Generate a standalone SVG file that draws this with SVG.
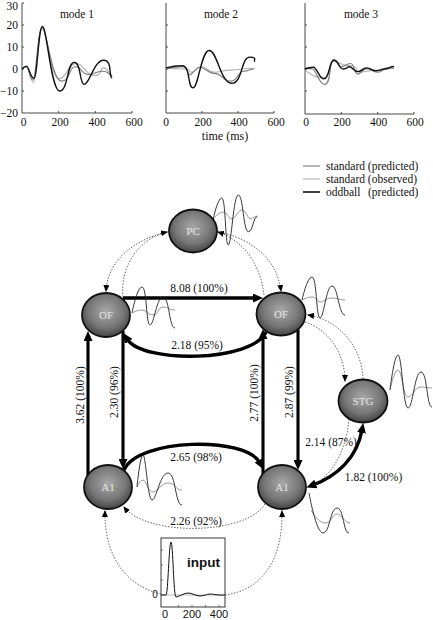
<svg xmlns="http://www.w3.org/2000/svg" width="433" height="620" viewBox="0 0 433 620">
<style>
.t{font-family:"Liberation Serif","Times New Roman",serif;font-size:11.5px;fill:#111}
.ax{fill:none;stroke:#333;stroke-width:0.9}
.blk{fill:none;stroke:#111;stroke-width:1.4;stroke-linejoin:round}
.g1{fill:none;stroke:#7a7a7a;stroke-width:1.1}
.g2{fill:none;stroke:#b0b0b0;stroke-width:1.1}
.wb{fill:none;stroke:#222;stroke-width:0.9}
.wg{fill:none;stroke:#8a8a8a;stroke-width:0.9}
.thick{fill:none;stroke:#000;stroke-width:3.4}
.vert{fill:none;stroke:#000;stroke-width:3.1}
.dot{fill:none;stroke:#444;stroke-width:0.8;stroke-dasharray:1.5,1.5}
.node{fill:url(#ng);stroke:#111;stroke-width:1.8}
.nl{font-family:"Liberation Serif","Times New Roman",serif;font-size:11px;fill:#e6e6e6;text-anchor:middle}
.lbl{font-family:"Liberation Serif","Times New Roman",serif;font-size:11.5px;fill:#111;text-anchor:middle}
.sans{font-family:"Liberation Sans",Arial,sans-serif;fill:#111}
</style>
<defs>
<radialGradient id="ng" cx="50%" cy="42%" r="62%">
<stop offset="0" stop-color="#a8a8a8"/>
<stop offset="0.6" stop-color="#767676"/>
<stop offset="1" stop-color="#3a3a3a"/>
</radialGradient>
<marker id="ah" markerUnits="userSpaceOnUse" markerWidth="10" markerHeight="9" refX="3" refY="4.5" orient="auto">
<path d="M0,0 L10,4.5 L0,9 z" fill="#000"/>
</marker>
<marker id="ahs" markerUnits="userSpaceOnUse" markerWidth="10" markerHeight="9" refX="3" refY="4.5" orient="auto-start-reverse">
<path d="M0,0 L10,4.5 L0,9 z" fill="#000"/>
</marker>
<marker id="ad" markerUnits="userSpaceOnUse" markerWidth="7" markerHeight="6" refX="6" refY="3" orient="auto">
<path d="M0,0 L7,3 L0,6 z" fill="#000"/>
</marker>
</defs>

<g id="plots">
<!-- plot 1 -->
<path class="ax" d="M22,3 V113 H132 M22,3 h2 M22,25 h2 M22,47 h2 M22,69 h2 M22,91 h2 M58.7,113 v-2 M95.3,113 v-2 M132,113 v-2"/>
<text class="t" text-anchor="end" x="18" y="9.5">30</text>
<text class="t" text-anchor="end" x="18" y="29">20</text>
<text class="t" text-anchor="end" x="18" y="51">10</text>
<text class="t" text-anchor="end" x="18" y="73">0</text>
<text class="t" text-anchor="end" x="18" y="95">−10</text>
<text class="t" text-anchor="end" x="18" y="117">−20</text>
<text class="t" text-anchor="middle" x="23.5" y="125.5">0</text>
<text class="t" text-anchor="middle" x="60" y="125.5">200</text>
<text class="t" text-anchor="middle" x="97" y="125.5">400</text>
<text class="t" text-anchor="middle" x="134" y="125.5">600</text>
<text class="t" text-anchor="middle" x="77" y="18">mode 1</text>
<path class="g2" d="M22,69 S24.3,65.7 26.6,65.7 S30,82.2 33.4,82.2 S37.8,27.2 42.2,27.2 S50.5,78.9 58.7,78.9 S67.4,63.5 76.1,63.5 S85.2,75.6 94.4,75.6 S99,67.9 103.6,67.9 S108,74.5 112.2,74.5"/>
<path class="g1" d="M22,69 S24.3,66.8 26.6,66.8 S29.8,80 33,80 S37.6,28.3 42.2,28.3 S51.8,81.1 61.4,81.1 S68.3,66.8 75.2,66.8 S81.6,74.5 88,74.5 S95.4,71.2 102.7,71.2 S107.5,75.6 112.2,75.6"/>
<path class="blk" d="M22,69 S24.3,66.4 26.6,66.4 S30.2,78.2 33.9,78.2 S38.2,26.5 42.5,26.5 S51,91 59.6,91 S66.9,62.4 74.2,62.4 S79.2,84.4 84.3,84.4 S94,60.2 103.6,60.2 S108,77.8 112.2,77.8"/>

<!-- plot 2 -->
<path class="ax" d="M166,3 V113 H274 M166,25 h2 M166,47 h2 M166,69 h2 M166,91 h2 M202,113 v-2 M238,113 v-2 M274,113 v-2"/>
<text class="t" text-anchor="middle" x="166" y="125.5">0</text>
<text class="t" text-anchor="middle" x="203" y="125.5">200</text>
<text class="t" text-anchor="middle" x="239" y="125.5">400</text>
<text class="t" text-anchor="middle" x="276" y="125.5">600</text>
<text class="t" text-anchor="middle" x="221" y="18">mode 2</text>
<text class="t" text-anchor="middle" x="225" y="140" style="font-size:12px">time (ms)</text>
<path class="g2" d="M166,67.9 S175,69 184,69 S187.6,72.3 191.2,72.3 S196.6,66.8 202,66.8 S208.3,72.3 214.6,72.3 S222.7,70.1 230.8,70.1 S242.5,68.3 254.2,68.3"/>
<path class="g1" d="M166,69 S174,66.8 182.2,66.8 S185.8,75 189.4,75 S194.8,67.2 200.2,67.2 S207.4,73.4 214.6,73.4 S222.7,81.1 230.8,81.1 S237.1,71.2 243.4,71.2 S248.8,69 254.2,69"/>
<path class="blk" d="M166,67.9 S174,65.7 182.2,65.7 S187.6,87.9 193,87.9 S201.1,50.5 209.2,50.5 S220.5,83.3 231.7,83.3 S240.7,57.1 249.7,57.1 S252.4,61.3 255.1,61.3"/>

<!-- plot 3 -->
<path class="ax" d="M305,3 V114 H414 M305,25 h2 M305,47 h2 M305,69 h2 M305,91 h2 M341.3,114 v-2 M377.7,114 v-2 M414,114 v-2"/>
<text class="t" text-anchor="middle" x="306" y="126">0</text>
<text class="t" text-anchor="middle" x="342" y="126">200</text>
<text class="t" text-anchor="middle" x="378.5" y="126">400</text>
<text class="t" text-anchor="middle" x="415" y="126">600</text>
<text class="t" text-anchor="middle" x="361" y="18">mode 3</text>
<path class="g2" d="M305,70.1 S314,77.8 323.2,77.8 S327.8,61.3 332.3,61.3 S341.4,65.7 350.4,65.7 S355,72.3 359.5,72.3 S368.6,70.1 377.7,70.1 S385.8,68.3 394,68.3"/>
<path class="g1" d="M305,67.9 S308.6,69 312.3,69 S318.6,84.4 325,84.4 S329.1,59.5 333.2,59.5 S337.3,66.8 341.3,66.8 S345.9,63.5 350.4,63.5 S354,74.1 357.7,74.1 S362.2,68.6 366.8,68.6 S372.2,72.3 377.7,72.3 S382.2,67.9 386.8,67.9 S390.4,67.9 394,67.9"/>
<path class="blk" d="M305,69 S309.1,67.2 313.2,67.2 S318.7,78.9 324.1,78.9 S329.1,60.2 334.1,60.2 S338.6,69 343.2,69 S346.3,66.8 349.5,66.8 S353.6,71.6 357.7,71.6 S362.2,67.9 366.8,67.9 S371.3,70.8 375.9,70.8 S380.4,69 385,69 S389.5,66.4 394,66.4"/>
</g>

<g id="legend">
<line x1="303" y1="166" x2="320" y2="166" stroke="#7a7a7a" stroke-width="1.1"/>
<line x1="303" y1="179" x2="320" y2="179" stroke="#b0b0b0" stroke-width="1.1"/>
<line x1="303" y1="192" x2="320" y2="192" stroke="#111" stroke-width="1.6"/>
<text class="t" x="326" y="170">standard (predicted)</text>
<text class="t" x="326" y="183">standard (observed)</text>
<text class="t" x="326" y="196">oddball <tspan x="368">(predicted)</tspan></text>
</g>

<g id="connectors">
<path class="thick" d="M123,298 H256" marker-end="url(#ah)"/>
<path class="thick" d="M266,332 C252,362 143,364 127,339" marker-end="url(#ah)"/>
<path class="vert" d="M88,476 V338" marker-end="url(#ah)"/>
<path class="vert" d="M123,331 V462" marker-end="url(#ah)"/>
<path class="vert" d="M263,474 V336" marker-end="url(#ah)"/>
<path class="vert" d="M298,330 V463" marker-end="url(#ah)"/>
<path class="thick" d="M124,470 C138,438 246,436 260,463" marker-end="url(#ah)"/>
<path class="thick" d="M313,485 C337,476 357,458 362,430" marker-start="url(#ahs)" marker-end="url(#ah)"/>
<path class="dot" d="M265,504 C245,536 146,536 124,507" marker-end="url(#ad)"/>
<path class="dot" d="M349,419 C346,452 332,475 313,485"/>
<path class="dot" d="M161,594 C126,586 104,556 105,511" marker-end="url(#ad)"/>
<path class="dot" d="M225,595 C262,590 283,560 282,511" marker-end="url(#ad)"/>
<path class="dot" d="M168,232 C138,238 108,258 106,291" marker-end="url(#ad)"/>
<path class="dot" d="M123,297 C120,265 140,238 167,232" marker-end="url(#ad)"/>
<path class="dot" d="M218,232 C250,238 277,258 281,291" marker-end="url(#ad)"/>
<path class="dot" d="M264,295 C260,262 242,240 218,232" marker-end="url(#ad)"/>
<path class="dot" d="M363,379 C362,348 340,320 308,315" marker-end="url(#ad)"/>
<path class="dot" d="M305,322 C330,330 345,355 345,381" marker-end="url(#ad)"/>
<text class="lbl" x="199" y="292">8.08 (100%)</text>
<text class="lbl" x="197" y="349">2.18 (95%)</text>
<text class="lbl" x="196" y="461">2.65 (98%)</text>
<text class="lbl" x="196" y="525">2.26 (92%)</text>
<text class="lbl" x="331" y="446">2.14 (87%)</text>
<text class="lbl" x="373.5" y="481">1.82 (100%)</text>
<text class="lbl" transform="translate(84,395) rotate(-90)">3.62 (100%)</text>
<text class="lbl" transform="translate(117.5,392) rotate(-90)">2.30 (96%)</text>
<text class="lbl" transform="translate(257.5,393) rotate(-90)">2.77 (100%)</text>
<text class="lbl" transform="translate(292.5,392) rotate(-90)">2.87 (99%)</text>
</g>

<g id="node-PC">
<path class="wg" d="M213,219 S219,212 223,212 S229,219 232,219 S238,210 242,210 S248,219 250,219 S255,216 257,216"/>
<path class="wb" d="M213,220 S217.5,198 221.7,198 S225,245 228.3,245 S233.3,195 238.3,195 S243.3,231.7 248.3,231.7 S252.8,216.7 257.3,216.7"/>
<ellipse class="node" cx="193" cy="231" rx="24" ry="21.5"/>
<text class="nl" x="193" y="235">PC</text>
</g>

<g id="node-OF-left">
<path class="wg" d="M132,313 S137,310 142,310 S147.5,315 153,315 S158,307 163,307 S169,310 175,310"/>
<path class="wb" d="M132,313 S137,287 142,287 S146,325 150,325 S156.5,297 163,297 S169,328 175,328"/>
<ellipse class="node" cx="106" cy="315" rx="24" ry="22"/>
<text class="nl" x="106" y="319">OF</text>
</g>

<g id="node-OF-right">
<path class="wg" d="M302,300 S307,297 312,297 S316,302 320,302 S326,298 332,298 S338.5,300 345,300"/>
<path class="wb" d="M302,300 S307,277 312,277 S316,318 320,318 S326,286 332,286 S338.5,315 345,315"/>
<ellipse class="node" cx="281" cy="314" rx="24.5" ry="21.5"/>
<text class="nl" x="281" y="318">OF</text>
</g>

<g id="node-STG">
<path class="wg" d="M390,390 S394,370 398,370 S403,397 408,397 S414.5,387 421,387 S426.5,388 432,388"/>
<path class="wb" d="M390,390 S394,355 398,355 S403,408 408,408 S414.5,372 421,372 S426.5,407 432,407"/>
<ellipse class="node" cx="363" cy="401" rx="24.5" ry="21.5"/>
<text class="nl" x="363" y="405">STG</text>
</g>

<g id="node-A1-left">
<path class="wg" d="M137,487 S140,480 143,480 S148,492 153,492 S160.5,483 168,483 S175,490 182,490"/>
<path class="wb" d="M137,487 S140,455 143,455 S147.5,500 152,500 S160,473 168,473 S175,505 182,505"/>
<ellipse class="node" cx="108" cy="487" rx="24" ry="22"/>
<text class="nl" x="108" y="491">A1</text>
</g>

<g id="node-A1-right">
<path class="wg" d="M311,510 S318,523 325,523 S332,514 337,514 S344,523 350,523"/>
<path class="wb" d="M309,493 S316,533 323,533 S330,508 337,508 S343,533 349,533"/>
<ellipse class="node" cx="282" cy="487" rx="24" ry="22"/>
<text class="nl" x="282" y="491">A1</text>
</g>

<g id="node-input">
<rect x="161" y="538" width="64" height="69" fill="#fff" stroke="#222" stroke-width="0.9"/>
<path fill="none" stroke="#333" stroke-width="0.7" d="M161,550 h2 M161,565 h2 M161,580 h2 M178.5,607 v-2 M192,607 v-2 M205.5,607 v-2 M219,607 v-2"/>
<line x1="161" y1="595" x2="225" y2="595" stroke="#888" stroke-width="0.6"/>
<path fill="none" stroke="#111" stroke-width="1" d="M161,595 H166 C168,595 169,542 171,542 C173,542 173.5,597 176,597 S184,593 188,593 S196,596 200,596 S207,594 210,594 S218,595.5 225,595"/>
<text class="sans" x="187" y="567" style="font-size:13.5px;font-weight:bold">input</text>
<text class="sans" x="155" y="598" text-anchor="middle" style="font-size:10px">0</text>
<text class="sans" x="165" y="618" text-anchor="middle" style="font-size:11px">0</text>
<text class="sans" x="192" y="618" text-anchor="middle" style="font-size:11px">200</text>
<text class="sans" x="219" y="618" text-anchor="middle" style="font-size:11px">400</text>
</g>
</svg>
